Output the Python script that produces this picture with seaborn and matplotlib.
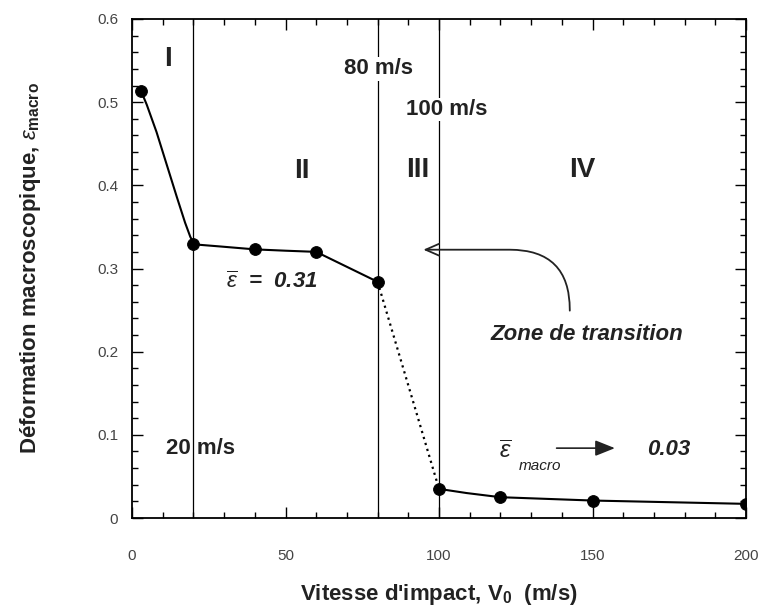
import matplotlib
matplotlib.use("Agg")
import matplotlib.pyplot as plt
import seaborn as sns
from matplotlib.ticker import MultipleLocator

# points measures
v_pts = [3, 20, 40, 60, 80, 100, 120, 150, 200]
eps_pts = [0.513, 0.329, 0.323, 0.320, 0.284, 0.035, 0.025, 0.021, 0.017]

# trace (zones I-II)
curve_low_v = [3, 4.8, 8, 11.3, 14.6, 17.3, 19, 20, 22, 28.7, 40, 50, 60, 70, 80]
curve_low_eps = [0.513, 0.497, 0.464, 0.425, 0.386, 0.355, 0.338, 0.331,
                 0.3285, 0.3265, 0.323, 0.3214, 0.320, 0.302, 0.284]
# zone III (pointilles)
trans_v = [80, 100]
trans_eps = [0.284, 0.035]
# zone IV
curve_high_v = [100, 109, 120, 150, 200]
curve_high_eps = [0.035, 0.030, 0.025, 0.021, 0.017]

limits = [20, 80, 100]
zones = ["I", "II", "III", "IV"]
zone_x = [11.7, 55.4, 93, 146.8]
zone_y = [0.552, 0.417, 0.419, 0.419]

x_ticks = [0, 50, 100, 150, 200]
x_ticklabels = ["0", "50", "100", "150", "200"]
y_ticks = [0, 0.1, 0.2, 0.3, 0.4, 0.5, 0.6]
y_ticklabels = ["0", "0.1", "0.2", "0.3", "0.4", "0.5", "0.6"]

sns.set_theme(style="ticks")
plt.rcParams["font.family"] = ["Liberation Sans", "DejaVu Sans"]
plt.rcParams["mathtext.fontset"] = "custom"
plt.rcParams["mathtext.rm"] = "Liberation Sans"
plt.rcParams["mathtext.it"] = "Liberation Sans:italic"
plt.rcParams["mathtext.bf"] = "Liberation Sans:bold"

fig = plt.figure(figsize=(7.6, 6.1), dpi=100)
ax = fig.add_axes([132 / 760, 1 - 518 / 610, 614 / 760, 499 / 610])

for x in limits:
    ax.axvline(x, color="black", lw=0.9, zorder=1)

sns.lineplot(x=curve_low_v, y=curve_low_eps, sort=False, estimator=None,
             color="black", lw=1.5, ax=ax, zorder=3)
sns.lineplot(x=trans_v, y=trans_eps, sort=False, estimator=None,
             color="black", lw=1.6, linestyle=(0, (1, 1.8)), ax=ax, zorder=3)
sns.lineplot(x=curve_high_v, y=curve_high_eps, sort=False, estimator=None,
             color="black", lw=1.5, ax=ax, zorder=3)
sns.scatterplot(x=v_pts, y=eps_pts, color="black", s=72, edgecolor="black",
                ax=ax, zorder=4)

ax.set_xlim(0, 200)
ax.set_ylim(0, 0.6)
ax.set_xticks(x_ticks)
ax.set_xticklabels(x_ticklabels)
ax.set_yticks(y_ticks)
ax.set_yticklabels(y_ticklabels)
ax.xaxis.set_minor_locator(MultipleLocator(10))
ax.yaxis.set_minor_locator(MultipleLocator(0.02))
ax.tick_params(which="both", direction="in", top=True, right=True,
               color="black", width=1.0)
ax.tick_params(which="major", length=8, labelsize=11, labelcolor="#444444")
ax.tick_params(which="minor", length=4)
ax.tick_params(axis="x", which="major", pad=22)
ax.tick_params(axis="y", which="major", pad=10)
for s in ax.spines.values():
    s.set_linewidth(1.3)
    s.set_color("black")

ax.set_xlabel(r"Vitesse d'impact, V$_{\mathbf{0}}$  (m/s)", fontsize=16,
              fontweight="bold", color="#222222", labelpad=14)
ax.set_ylabel(r"Déformation macroscopique, $\varepsilon_{\mathbf{macro}}$",
              fontsize=16, fontweight="bold", color="#222222")
ax.yaxis.set_label_coords(-0.145, 0.5)

for z, x, y in zip(zones, zone_x, zone_y):
    ax.text(x, y, z, fontsize=20, fontweight="bold", ha="center", va="center",
            color="#222222", zorder=5)

white = dict(facecolor="white", edgecolor="none", pad=1)
ax.text(80.3, 0.540, "80 m/s", fontsize=16, fontweight="bold", ha="center",
        va="center", color="#222222", bbox=white, zorder=5)
ax.text(102.4, 0.491, "100 m/s", fontsize=16, fontweight="bold", ha="center",
        va="center", color="#222222", bbox=white, zorder=5)
ax.text(22.2, 0.084, "20 m/s", fontsize=16, fontweight="bold", ha="center",
        va="center", color="#222222", zorder=5)

ax.text(45.4, 0.284, r"$\overline{\varepsilon}$  =  0.31", fontsize=16,
        fontweight="bold", style="italic", ha="center", va="center",
        color="#222222", zorder=5)

ax.annotate("", xy=(94.0, 0.3226), xytext=(142.6, 0.246),
            arrowprops=dict(arrowstyle="->,head_length=0.8,head_width=0.35",
                            color="#222222", lw=1.3,
                            connectionstyle="angle,angleA=90,angleB=0,rad=60"))
ax.text(148.1, 0.221, "Zone de transition", fontsize=16, fontweight="bold",
        style="italic", ha="center", va="center", color="#222222", zorder=5)

ax.text(121.7, 0.079, r"$\overline{\varepsilon}$", fontsize=17,
        ha="center", va="center", color="#222222", zorder=5)
ax.text(133, 0.062, "macro", fontsize=11, style="italic", ha="center",
        va="center", color="#222222", zorder=5)
ax.annotate("", xy=(158.2, 0.084), xytext=(137.4, 0.084),
            arrowprops=dict(arrowstyle="-|>,head_length=1.0,head_width=0.4",
                            color="#222222", lw=1.2))
ax.text(174.9, 0.0826, "0.03", fontsize=16, fontweight="bold",
        style="italic", ha="center", va="center", color="#222222", zorder=5)

fig.savefig("out.png", dpi=100)
